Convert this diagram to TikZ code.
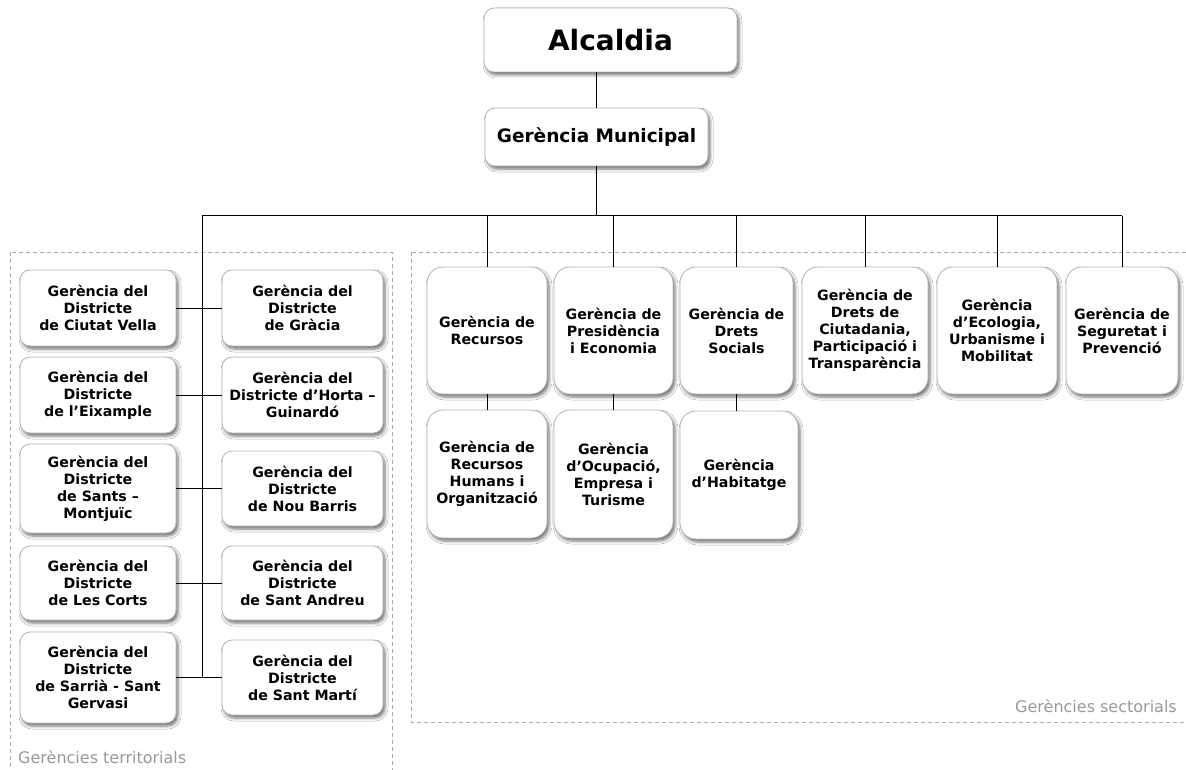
\documentclass[tikz,border=0pt]{standalone}
\usepackage{fontspec}
\setmainfont{DejaVu Sans}
\usetikzlibrary{shadows.blur}
\definecolor{boxline}{HTML}{B4B4B4}
\definecolor{dashgray}{HTML}{AAAAAA}
\definecolor{labgray}{HTML}{999999}
\tikzset{
  orgbox/.style={draw=boxline, line width=0.8pt, fill=white, rounded corners=10pt,
    align=center, inner sep=2pt, font=\fontsize{14.2}{17}\selectfont\bfseries,
    blur shadow={shadow xshift=2pt, shadow yshift=-3pt, shadow blur radius=3pt, shadow opacity=55}},
  secbox/.style={orgbox, rounded corners=16pt},
  conn/.style={line width=1pt, black},
  group/.style={draw=dashgray, line width=1pt, dash pattern=on 4pt off 3pt},
  grouplabel/.style={text=labgray, font=\fontsize{16}{19}\selectfont, inner sep=0pt}
}
\begin{document}
\begin{tikzpicture}[x=1pt, y=-1pt]
\clip (0,0) rectangle (1186,770);
\fill[white] (0,0) rectangle (1186,770);

% group frames
\draw[group] (10,252) rectangle (392,790);
\draw[group] (411,252) rectangle (1200,722);
\node[grouplabel, anchor=west] (lt) at (18,757) {Gerències territorials};
\node[grouplabel, anchor=east] (ls) at (1177,706) {Gerències sectorials};

% top
\node[orgbox, minimum width=253pt, minimum height=64pt, font=\fontsize{28}{32}\selectfont\bfseries] (alc) at (610.5,40) {Alcaldia};
\node[orgbox, minimum width=223pt, minimum height=58pt, font=\fontsize{18.5}{22}\selectfont\bfseries] (gm) at (596.5,137) {Gerència Municipal};

% territorial left column
\node[orgbox, minimum width=156pt, minimum height=76pt] (cv) at (98,308) {Gerència del\\Districte\\de Ciutat Vella};
\node[orgbox, minimum width=156pt, minimum height=76pt] (ei) at (98,395) {Gerència del\\Districte\\de l’Eixample};
\node[orgbox, minimum width=156pt, minimum height=89pt] (sa) at (98,488.5) {Gerència del\\Districte\\de Sants –\\Montjuïc};
\node[orgbox, minimum width=156pt, minimum height=74pt] (lc) at (98,583) {Gerència del\\Districte\\de Les Corts};
\node[orgbox, minimum width=156pt, minimum height=91pt] (sr) at (98,677.5) {Gerència del\\Districte\\de Sarrià - Sant\\Gervasi};

% territorial right column
\node[orgbox, minimum width=161pt, minimum height=76pt] (gr) at (302.5,308) {Gerència del\\Districte\\de Gràcia};
\node[orgbox, minimum width=161pt, minimum height=76pt] (ho) at (302.5,395) {Gerència del\\Districte d’Horta –\\Guinardó};
\node[orgbox, minimum width=161pt, minimum height=75pt] (nb) at (302.5,488.5) {Gerència del\\Districte\\de Nou Barris};
\node[orgbox, minimum width=161pt, minimum height=74pt] (an) at (302.5,583) {Gerència del\\Districte\\de Sant Andreu};
\node[orgbox, minimum width=161pt, minimum height=75pt] (sm) at (302.5,677.5) {Gerència del\\Districte\\de Sant Martí};

% sectoral row 1
\node[secbox, minimum width=120pt, minimum height=127pt] (rec) at (487,330.5) {Gerència de\\Recursos};
\node[secbox, minimum width=119pt, minimum height=127pt] (pre) at (613.5,330.5) {Gerència de\\Presidència\\i Economia};
\node[secbox, minimum width=113pt, minimum height=127pt] (ds) at (736.5,330.5) {Gerència de\\Drets\\Socials};
\node[secbox, minimum width=126pt, minimum height=127pt] (dc) at (865,330.5) {Gerència de\\Drets de\\Ciutadania,\\Participació i\\Transparència};
\node[secbox, minimum width=120pt, minimum height=127pt] (eco) at (997,330.5) {Gerència\\d’Ecologia,\\Urbanisme i\\Mobilitat};
\node[secbox, minimum width=112pt, minimum height=127pt] (seg) at (1122,330.5) {Gerència de\\Seguretat i\\Prevenció};

% sectoral row 2
\node[secbox, minimum width=120pt, minimum height=128pt] (rh) at (487,474) {Gerència de\\Recursos\\Humans i\\Organització};
\node[secbox, minimum width=119pt, minimum height=128pt] (oc) at (613.5,474) {Gerència\\d’Ocupació,\\Empresa i\\Turisme};
\node[secbox, minimum width=118pt, minimum height=128pt] (hab) at (739,475) {Gerència\\d’Habitatge};

% connectors
\coordinate (busL) at (202,216);
\coordinate (busR) at (1122,216);
\coordinate (trunkEnd) at (202,677.5);
\draw[conn] (gm.north |- alc.south) -- (gm.north);
\draw[conn] (gm.south) -- (gm.south |- busL);
\draw[conn] (busL) -- (busR);
\draw[conn] (busL) -- (trunkEnd);
\foreach \n in {rec,pre,ds,dc,eco,seg}
  \draw[conn] (\n.north |- busL) -- (\n.north);
\draw[conn] (cv.east) -- (gr.west);
\draw[conn] (ei.east) -- (ho.west);
\draw[conn] (sa.east) -- (nb.west);
\draw[conn] (lc.east) -- (an.west);
\draw[conn] (sr.east) -- (sm.west);
\draw[conn] (rec.south) -- (rh.north);
\draw[conn] (pre.south) -- (oc.north);
\draw[conn] (ds.south) -- (ds.south |- hab.north);
\end{tikzpicture}
\end{document}
